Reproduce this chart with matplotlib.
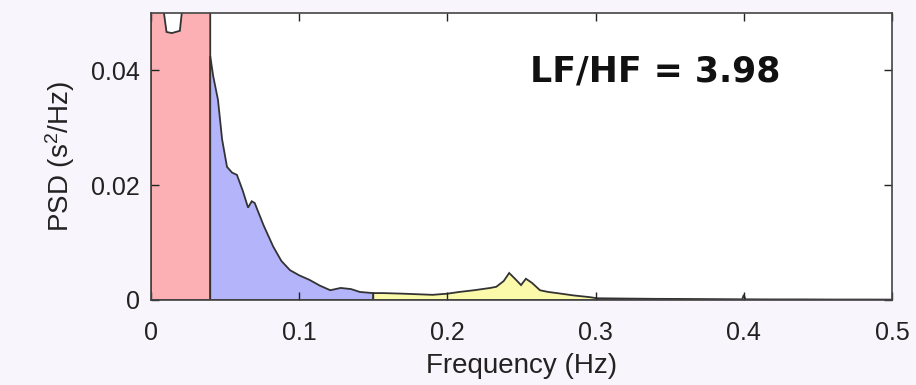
import matplotlib
matplotlib.use("Agg")
import matplotlib.pyplot as plt
from matplotlib.ticker import FuncFormatter

# PSD (Hz, s^2/Hz)
vlf_freq = [0.0, 0.005, 0.0085, 0.0105, 0.014, 0.0195, 0.021, 0.03, 0.04]
vlf_psd = [0.09, 0.07, 0.0505, 0.0467, 0.0465, 0.0469, 0.0505, 0.07, 0.08]

lf_freq = [0.04, 0.042, 0.0452, 0.048, 0.0513, 0.0547, 0.058, 0.062, 0.0655,
           0.068, 0.070, 0.076, 0.0825, 0.088, 0.0938, 0.100, 0.107, 0.114,
           0.121, 0.128, 0.135, 0.141, 0.150]
lf_psd = [0.0425, 0.039, 0.0349, 0.028, 0.0232, 0.0222, 0.0218, 0.019, 0.0161,
          0.0172, 0.0169, 0.013, 0.0093, 0.0068, 0.0052, 0.0043, 0.0035, 0.0025,
          0.0017, 0.0021, 0.0019, 0.0014, 0.0012]

hf_freq = [0.150, 0.157, 0.170, 0.180, 0.190, 0.200, 0.208, 0.218, 0.229,
           0.233, 0.238, 0.2417, 0.246, 0.2497, 0.253, 0.257, 0.2625, 0.268,
           0.274, 0.285, 0.296, 0.301, 0.320, 0.340, 0.360, 0.380, 0.399,
           0.400, 0.401]
hf_psd = [0.0012, 0.0012, 0.0011, 0.0010, 0.0009, 0.0011, 0.0014, 0.0017, 0.0021,
          0.0023, 0.0033, 0.0047, 0.0036, 0.0026, 0.0037, 0.0030, 0.0017, 0.0014,
          0.0012, 0.0008, 0.0005, 0.0003, 0.00025, 0.0002, 0.00018, 0.00015, 0.00012,
          0.0009, 0.00012]

rest_freq = [0.401, 0.42, 0.44, 0.46, 0.48, 0.5]
rest_psd = [0.00012, 0.0001, 0.0001, 0.00008, 0.00008, 0.00007]

ratio_text = "LF/HF = 3.98"

plt.rcParams['font.family'] = ['Liberation Sans', 'DejaVu Sans']
plt.rcParams['mathtext.default'] = 'regular'

fig = plt.figure(figsize=(9.16, 3.85), dpi=100, facecolor='#f8f6fc')
ax = fig.add_axes([0.1648, 0.2208, 0.809, 0.7454])
ax.set_facecolor('white')

edge = '#333333'
def band(freq, psd, color):
    xs = [freq[0]] + list(freq) + [freq[-1]]
    ys = [0] + list(psd) + [0]
    ax.fill(xs, ys, facecolor=color, edgecolor=edge, lw=1.3)

band(vlf_freq, vlf_psd, '#fcb0b4')
band(lf_freq, lf_psd, '#b4b4fa')
band(hf_freq, hf_psd, '#fafaaa')
ax.plot(rest_freq, rest_psd, color=edge, lw=1.3)

ax.text(0.68, 0.795, ratio_text, transform=ax.transAxes, ha='center', va='center',
        fontsize=25, fontweight='bold', family='DejaVu Sans', color='#111111')

ax.set_xlim(0, 0.5)
ax.set_ylim(0, 0.05)
ax.set_xticks([0, 0.1, 0.2, 0.3, 0.4, 0.5])
ax.set_yticks([0, 0.02, 0.04])
fmt = FuncFormatter(lambda v, p: '%g' % round(v, 4))
ax.xaxis.set_major_formatter(fmt)
ax.yaxis.set_major_formatter(fmt)
ax.tick_params(direction='in', length=6, width=1, top=True, right=True,
               labelsize=18, colors='#222222', pad=8)
ax.tick_params(axis='x', pad=15)
for s in ax.spines.values():
    s.set_color('#444444')
    s.set_linewidth(1.2)

ax.set_xlabel('Frequency (Hz)', fontsize=20, color='#222222', labelpad=6)
ax.set_ylabel('PSD (s$^2$/Hz)', fontsize=20, color='#222222', labelpad=10)

fig.savefig('out.png', dpi=100, facecolor=fig.get_facecolor())
